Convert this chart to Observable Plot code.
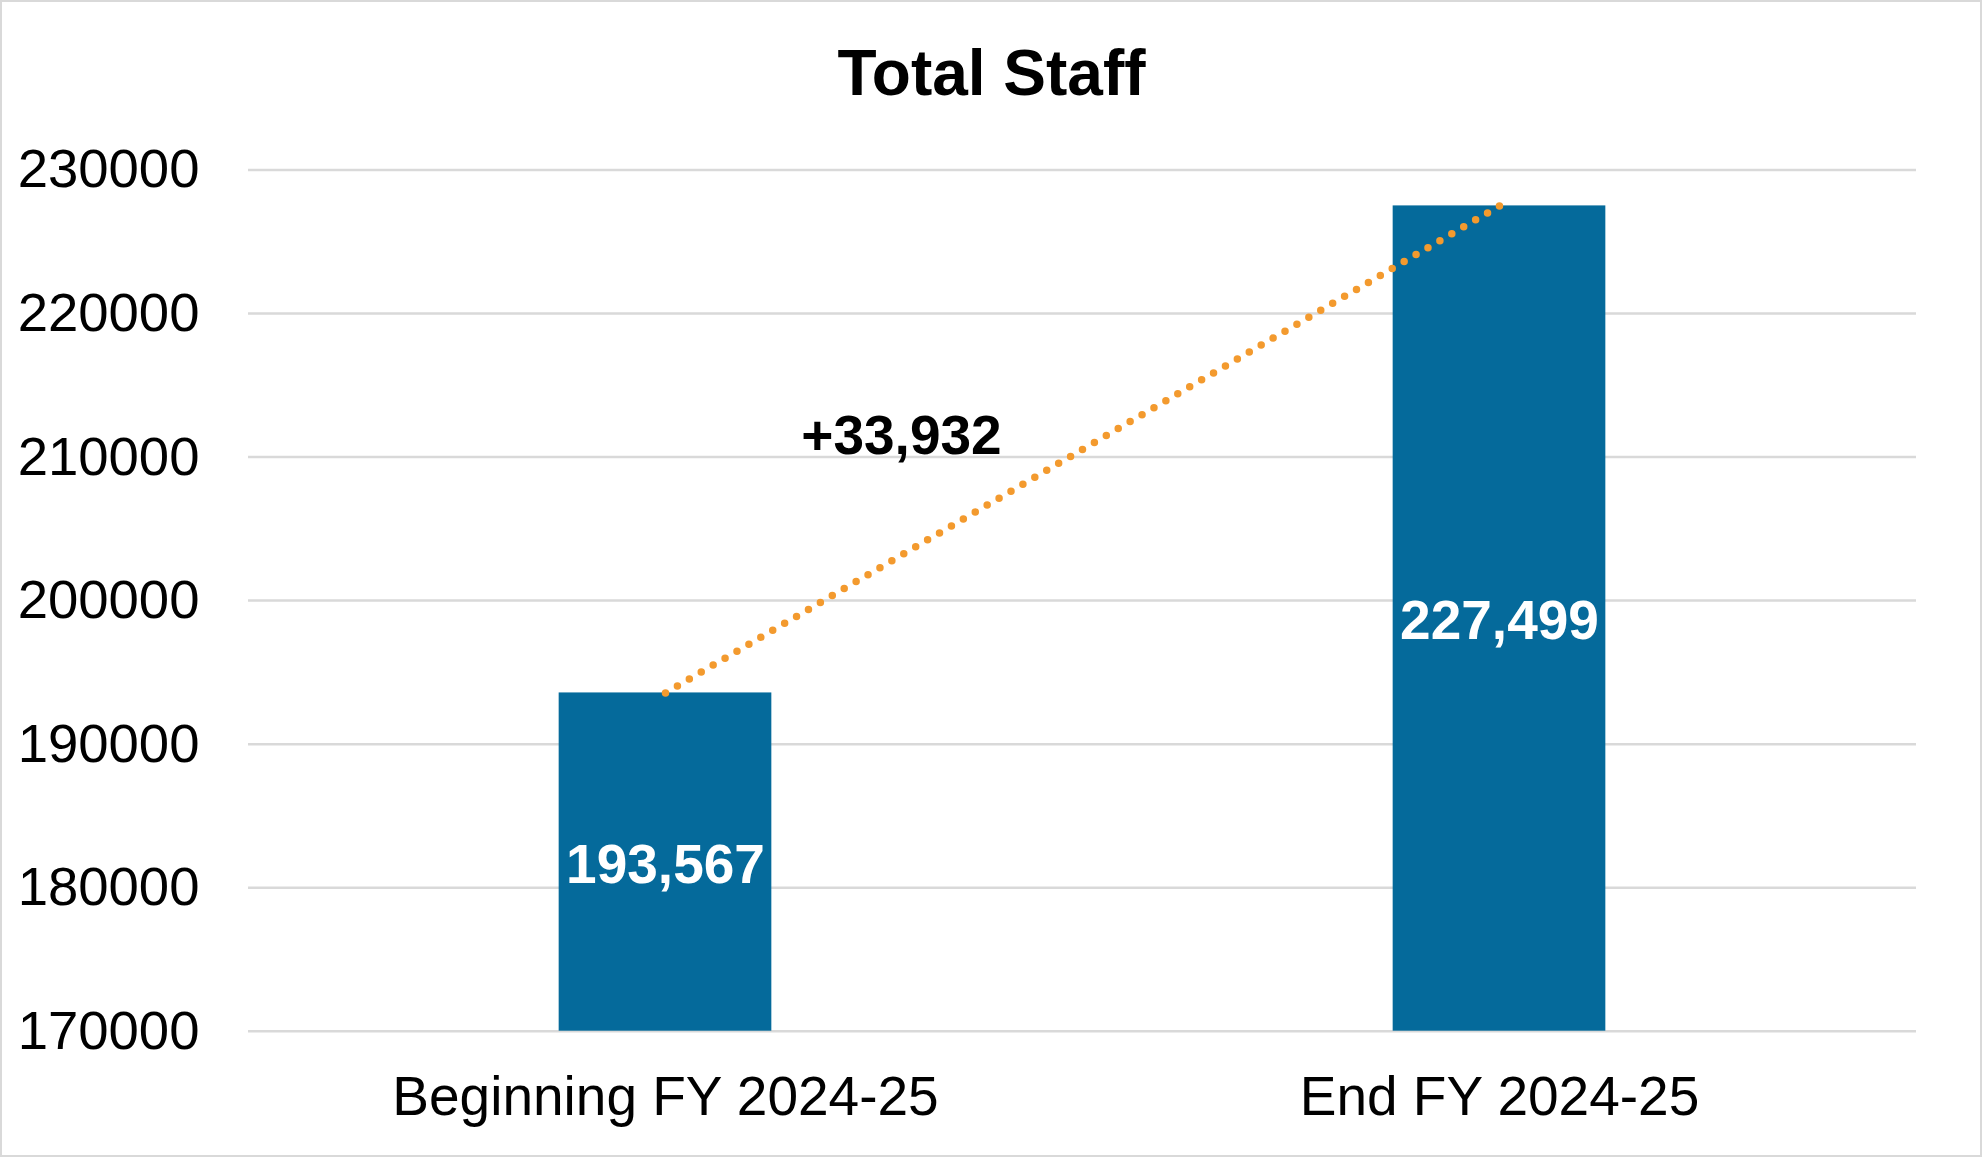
<!DOCTYPE html>
<html>
<head>
<meta charset="utf-8">
<script src="https://cdn.jsdelivr.net/npm/d3@7"></script>
<script src="https://cdn.jsdelivr.net/npm/@observablehq/plot@0.6"></script>
<style>
  html, body { margin: 0; padding: 0; background: #fff; }
  #wrap { position: relative; width: 1983px; height: 1158px; overflow: hidden; background: #fff; color: #000;
          font-family: "Liberation Sans", Arial, sans-serif; }
  #chart { position: absolute; left: 0; top: 0; }
  #title { position: absolute; left: 0; top: 41px; width: 1983px; text-align: center;
           font: bold 64px/64px "Liberation Sans", Arial, sans-serif; color: #000; }
  #frame { position: absolute; left: 0; top: 0; width: 1982px; height: 1157px; box-sizing: border-box;
           border: 2px solid #d9d9d9; pointer-events: none; }
</style>
</head>
<body>
<div id="wrap">
  <div id="chart"></div>
  <div id="title">Total Staff</div>
  <div id="frame"></div>
</div>
<script>
// ---- data ----
const categories = ["Beginning FY 2024-25", "End FY 2024-25"];
const staffValues = [193567, 227499];
const yTicks = [170000, 180000, 190000, 200000, 210000, 220000, 230000];
const yMin = 170000;
const yMax = 230000;
const changeLabelY = 210200; // vertical position (data units) of the change annotation

const data = categories.map((c, i) => ({category: c, value: staffValues[i]}));
const change = staffValues[1] - staffValues[0];
const changeText = "+" + d3.format(",")(change);

const barColor = "#056A9B";
const lineColor = "#F39A2E";
const gridColor = "#d9d9d9";
const font = "Liberation Sans, Arial, sans-serif";

const chart = Plot.plot({
  width: 1983,
  height: 1158,
  marginLeft: 248,
  marginRight: 67,
  marginTop: 169.5,
  marginBottom: 127.3,
  style: {fontFamily: font, color: "#000", background: "transparent"},
  x: {type: "band", domain: categories, paddingInner: 0.745, paddingOuter: 0.3725, round: false, label: null},
  y: {domain: [yMin, yMax], label: null},
  marks: [
    Plot.gridY(yTicks, {stroke: gridColor, strokeOpacity: 1, strokeWidth: 2.5}),
    Plot.axisY(yTicks, {tickSize: 0, tickPadding: 49, fontSize: 54.5, tickFormat: d3.format("d"), label: null, fill: "#000"}),
    Plot.axisX({tickSize: 0, tickPadding: 45, fontSize: 55, label: null, fill: "#000"}),
    Plot.barY(data, {x: "category", y1: () => yMin, y2: "value", fill: barColor}),
    Plot.line(data, {x: "category", y: "value", stroke: lineColor, strokeWidth: 7.5,
                     strokeDasharray: "0 13.8", strokeLinecap: "round", className: "dotted-change"}),
    Plot.text(data, {x: "category", y: d => (yMin + d.value) / 2, text: d => d3.format(",")(d.value),
                     fill: "#fff", fontSize: 55, fontWeight: "bold", dy: 3}),
    Plot.text([changeText], {x: () => categories[0], y: () => changeLabelY, text: d => d,
                     lineAnchor: "bottom", dx: 236, fill: "#000", fontSize: 55, fontWeight: "bold"})
  ]
});
document.getElementById("chart").appendChild(chart);

// make the dots land on both ends of the connector
const linePath = chart.querySelector(".dotted-change path");
if (linePath && linePath.getTotalLength) {
  const L = linePath.getTotalLength();
  const n = Math.max(1, Math.round(L / 13.8));
  linePath.setAttribute("stroke-dasharray", `0 ${(L - 0.05) / n}`);
}
</script>
</body>
</html>
